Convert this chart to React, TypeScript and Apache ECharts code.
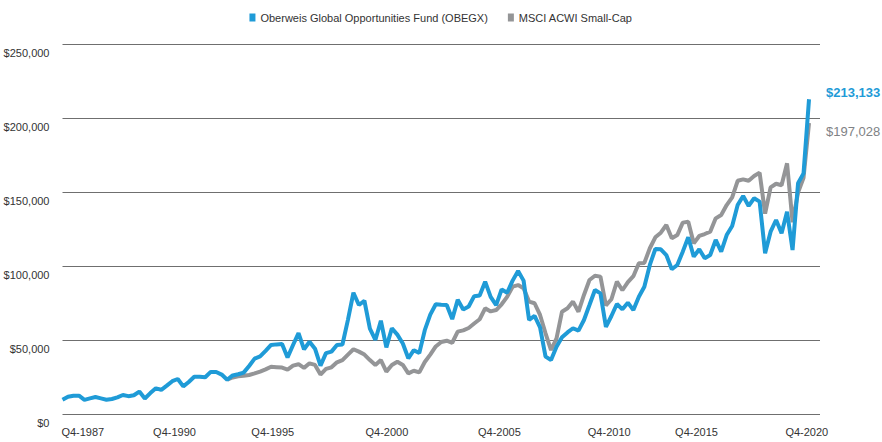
import { useEffect, useRef } from 'react';
import * as echarts from 'echarts';

// Quarter-end points: first point is the starting $10,000 (Q4-1986), last is Q4-2020
const FIRST_YEAR = 1986;

const obegxValues: number[] = [
  10000, 12000, 12700, 12700, 9900, 10900, 11800, 10900, 10000, 10500,
  11600, 13200, 12400, 13000, 15500, 10800, 14500, 17700, 16700, 19500,
  22500, 24000, 19000, 22000, 25500, 25500, 25200, 28800, 28700, 27000,
  23500, 26400, 27200, 28300, 32800, 37800, 39300, 43000, 47000, 47400,
  47700, 38500, 47000, 55000, 44000, 49200, 44500, 33000, 41500, 42500,
  47000, 47300, 64000, 82300, 74000, 76900, 58000, 50400, 63400, 45400,
  58300, 54000, 48000, 38000, 43500, 41500, 57000, 67500, 74500, 74200,
  74000, 64500, 77500, 71000, 73000, 80000, 80500, 89800, 79500, 74000,
  84600, 82300, 90500, 97000, 90500, 63900, 66600, 58900, 39100, 36800,
  45800, 52200, 55500, 58300, 56700, 63900, 74000, 84200, 81900, 59200,
  66600, 74700, 71100, 75600, 70600, 79600, 86400, 101100, 111900, 111700,
  107800, 98200, 101100, 110100, 119800, 106700, 111700, 105600, 107800, 118000,
  110100, 121300, 127400, 141600, 147700, 141000, 146200, 143900, 109000, 123600,
  131500, 122500, 137100, 111200, 156300, 163000, 213133,
];

// Index starts later (quarter index 30); earlier quarters have no value
const MSCI_START = 30;
const msciValues: number[] = [
  23500, 25000, 25800, 26200, 26700, 27800, 29000, 30500, 32300, 32000,
  31700, 30300, 33000, 34000, 31500, 34600, 33500, 27000, 30800, 31900,
  35300, 36800, 40500, 44100, 42500, 40500, 36800, 33500, 36800, 29000,
  33500, 35700, 33500, 27800, 29600, 28500, 35500, 40500, 46000, 49000,
  49900, 48500, 56000, 56900, 58500, 61500, 64400, 71800, 69700, 70600,
  74500, 79500, 86400, 87500, 85300, 76300, 75200, 67300, 54900, 43600,
  51500, 69500, 71800, 76300, 69500, 80800, 90900, 93800, 93200, 73700,
  77900, 89800, 84000, 89500, 93500, 102200, 102500, 112400, 119800, 122900,
  128100, 119100, 121300, 129700, 130300, 115700, 120700, 122000, 123600, 132600,
  134900, 141600, 146800, 158000, 159000, 158000, 161200, 163500, 135800, 153500,
  156000, 155000, 169800, 130000, 150000, 160000, 197028,
];

const seriesNames = ['Oberweis Global Opportunities Fund (OBEGX)', 'MSCI ACWI Small-Cap'];
const xTickLabels = ['Q4-1987', 'Q4-1990', 'Q4-1995', 'Q4-2000', 'Q4-2005', 'Q4-2010', 'Q4-2015', 'Q4-2020'];
const xTickPositions = [3.7, 20.4, 38.3, 59.1, 79.6, 99.6, 115.5, 135.6];
const yMax = 250000;
const yStep = 50000;

const quarterName = (i: number) => {
  const year = FIRST_YEAR + Math.floor((i + 3) / 4);
  const q = ((i + 3) % 4) + 1;
  return `Q${q}-${year}`;
};

const BLUE = '#1f9bd7';
const GRAY = '#949597';
const SANS = "'Liberation Sans', Arial, sans-serif";
const money = (v: number) => '$' + Math.round(v).toLocaleString('en-US');

export default function App() {
  const ref = useRef<HTMLDivElement>(null);
  useEffect(() => {
    document.body.style.margin = '0';
    document.body.style.overflow = 'hidden';
    const chart = echarts.init(ref.current!, null, { renderer: 'svg', width: 882, height: 442 });
    const blueData = obegxValues.map((v, i) => [i, v]);
    const grayData = msciValues.map((v, k) => [MSCI_START + k, v]);
    chart.setOption({
      animation: false,
      backgroundColor: '#ffffff',
      legend: {
        top: 7,
        left: 'center',
        data: seriesNames,
        icon: 'rect',
        itemWidth: 6,
        itemHeight: 8,
        itemGap: 20,
        textStyle: { fontSize: 11, color: '#333', fontFamily: SANS },
      },
      grid: { left: 62.5, top: 44.7, width: 757.5, height: 369.8, containLabel: false },
      xAxis: {
        type: 'value',
        min: 0,
        max: 138,
        axisLine: { show: false },
        axisTick: { show: false },
        splitLine: { show: false },
        axisLabel: {
          customValues: xTickPositions,
          formatter: (v: number) => {
            const k = xTickPositions.indexOf(v);
            return k >= 0 ? xTickLabels[k] : '';
          },
          margin: 12,
          fontSize: 11,
          color: '#333',
          fontFamily: SANS,
        },
      },
      yAxis: {
        type: 'value',
        min: 0,
        max: yMax,
        interval: yStep,
        axisLine: { show: false },
        axisTick: { show: false },
        splitLine: { show: true, lineStyle: { color: '#6f6f6f', width: 1 } },
        axisLabel: {
          formatter: (v: number) => money(v),
          margin: 13,
          fontSize: 11,
          color: '#333',
          fontFamily: SANS,
          verticalAlign: 'top',
          padding: [3, 0, 0, 0],
        },
      },
      tooltip: {
        trigger: 'axis',
        formatter: (ps: any[]) =>
          quarterName(ps[0].value[0]) + '<br/>' + ps.map((p) => p.seriesName + ': ' + money(p.value[1])).join('<br/>'),
      },
      series: [
        {
          name: seriesNames[1],
          type: 'line',
          data: grayData,
          showSymbol: false,
          symbol: 'none',
          color: GRAY,
          lineStyle: { width: 4, color: GRAY },
          z: 2,
          endLabel: {
            show: true,
            formatter: (p: any) => money(p.value[1]),
            color: '#808285',
            fontSize: 13,
            fontFamily: SANS,
            distance: 0,
            offset: [17, 8],
          },
        },
        {
          name: seriesNames[0],
          type: 'line',
          data: blueData,
          showSymbol: false,
          symbol: 'none',
          color: BLUE,
          lineStyle: { width: 4, color: BLUE },
          z: 3,
          endLabel: {
            show: true,
            formatter: (p: any) => money(p.value[1]),
            color: BLUE,
            fontSize: 13,
            fontWeight: 'bold',
            fontFamily: SANS,
            distance: 0,
            offset: [17, -6.5],
          },
        },
      ],
    });
    return () => chart.dispose();
  }, []);
  return <div ref={ref} style={{ width: 882, height: 442 }} />;
}
